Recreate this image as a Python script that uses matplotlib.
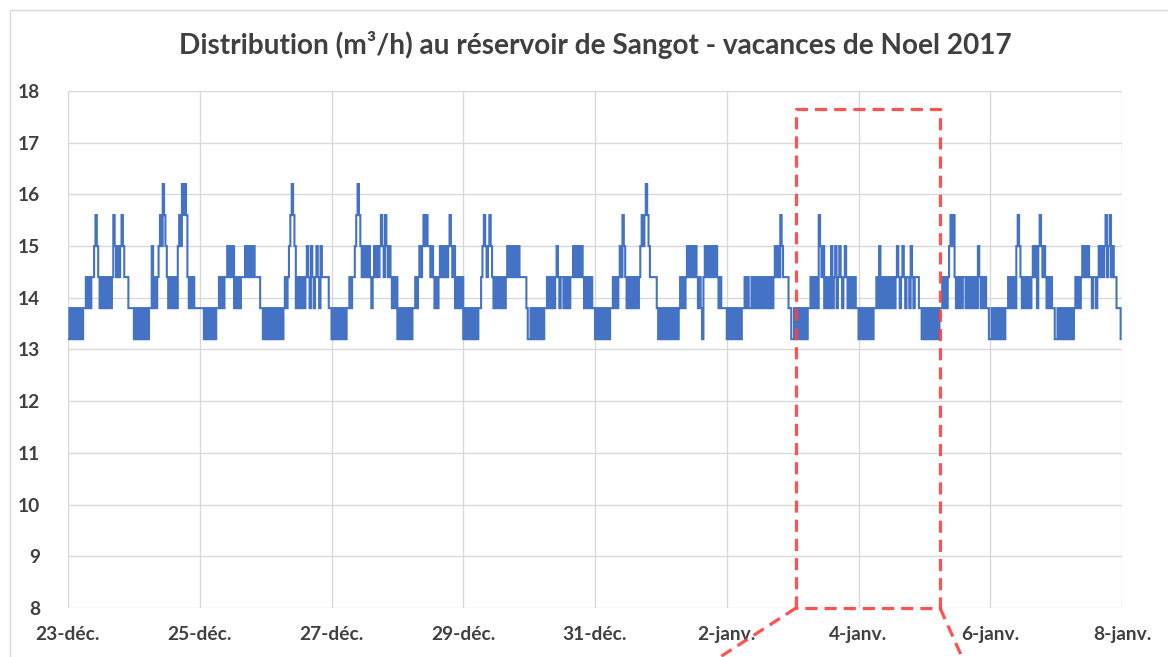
import matplotlib
matplotlib.use("Agg")
import matplotlib.pyplot as plt
from matplotlib.lines import Line2D
from matplotlib.patches import Rectangle
from datetime import datetime, timedelta

# ---------------- data ----------------
# level codes (m3/h)
LEVEL_CODES = "abcdef"
LEVEL_VALUES = [13.2, 13.8, 14.4, 15.0, 15.6, 16.2]

# one string per day, one character per 30-minute slot (48 per day)
D_23DEC = "abababababab" + "bcbcbc" + "cdedc" + "bcbcbcbcb" + "cedcdcdedc" + "cc" + "bbbb"
D_24DEC = "abababababab" + "bdbcbc" + "dedfed" + "cbcbcbcb" + "dedfefe" + "cbcbcb" + "bbb"
D_25DEC = "bbb" + "ababababab" + "bcbcbc" + "cdcdcd" + "bcbcbc" + "cc" + "dcdcdcd" + "cccc" + "bb" + "ab"
D_26DEC = "ababababababa" + "bcbc" + "defed" + "bcbcbcb" + "cdcbdcbcdcbdc" + "cccc" + "bb"
D_27DEC = "abababababab" + "bcbcc" + "defed" + "cdcdcdc" + "bcd" + "cdc" + "dedce" + "dcdc" + "bcbc"
D_28DEC = "abababababab" + "bcb" + "cdc" + "deded" + "dcdc" + "bcbc" + "dcdcdcdedcd" + "bcbcbc"
D_29DEC = "abababababab" + "bcd" + "edcdedc" + "bcbcbcbcbc" + "dcdcdcdcdc" + "cccc" + "ba"
D_30DEC = "abababababab" + "bcbcbcbc" + "d" + "cbccbcbcbcc" + "dcdcdcdc" + "bcbcbc" + "bb"
D_31DEC = "abababababab" + "bcbcb" + "cdcedc" + "bcbcbcbcbc" + "dedefed" + "ccccc" + "bab"
D_01JAN = "ababababababa" + "bcbcbc" + "dcdcdcd" + "cbcbac" + "dcdcdcdcdc" + "bcb" + "bbb"
D_02JAN = "abababababab" + "bcbcbbcbcbc" + "bcbcbcbcbcb" + "cdcdced" + "cccc" + "bba"
D_03JAN = "abababababab" + "bcbcbcb" + "edcd" + "bcbcb" + "dbcdbcdcbcdcbcbcbc" + "bb"
D_04JAN = "abababababab" + "bcbdbcbcbcbcbcb" + "cdcbcdcbccbdcbccc" + "bbab"
D_05JAN = "abababababab" + "bcbcb" + "cd" + "ede" + "cbcbcbcc" + "bcbcbcbcbdcbcbc" + "bb" + "a"
D_06JAN = "abababababab" + "bcbcbcb" + "dedc" + "bcbcbcbc" + "dcdbdedcd" + "cbcbc" + "bba"
D_07JAN = "ababababababa" + "bcbcbc" + "dcdcdc" + "cbccb" + "cdcdcdecdecd" + "cc" + "bbba"

DAYS = [D_23DEC, D_24DEC, D_25DEC, D_26DEC, D_27DEC, D_28DEC, D_29DEC, D_30DEC,
        D_31DEC, D_01JAN, D_02JAN, D_03JAN, D_04JAN, D_05JAN, D_06JAN, D_07JAN]

START = datetime(2017, 12, 23)
END = datetime(2018, 1, 8)
STEP_MIN = 30

XTICK_LABELS = ["23-déc.", "25-déc.", "27-déc.", "29-déc.", "31-déc.",
                "2-janv.", "4-janv.", "6-janv.", "8-janv."]
YTICKS = [8, 9, 10, 11, 12, 13, 14, 15, 16, 17, 18]

TITLE = "Distribution (m³/h) au réservoir de Sangot - vacances de Noel 2017"

# highlighted zone (red dashed box)
ZONE_START = datetime(2018, 1, 3, 1, 13)
ZONE_END = datetime(2018, 1, 5, 5, 41)
ZONE_TOP = 17.65

# ---------------- build series ----------------
level_of = dict(zip(LEVEL_CODES, LEVEL_VALUES))
values = []
times = []
for d, day in enumerate(DAYS):
    for k, ch in enumerate(day):
        times.append(START + timedelta(days=d, minutes=STEP_MIN * k))
        values.append(level_of[ch])

# ---------------- figure ----------------
plt.rcParams["font.family"] = ["Lato", "DejaVu Sans"]
W, H = 1168, 657
fig = plt.figure(figsize=(W / 100, H / 100), dpi=100)
fig.patch.set_facecolor("white")

# chart border (Excel chart area)
fig.patches.append(Rectangle((10 / W, -0.2), 1.2, 1.2 - 10 / H,
                             transform=fig.transFigure, fill=False,
                             edgecolor="#D9D9D9", linewidth=1.0))

ax = fig.add_axes([68 / W, 1 - 608 / H, (1122 - 68) / W, (608 - 91) / H])
ax.plot(times, values, color="#4472C4", linewidth=1.5, zorder=3,
        drawstyle="steps-post", solid_joinstyle="miter")

ax.set_xlim(START, END)
ax.set_ylim(8, 18)
tick_dates = [START + timedelta(days=2 * i) for i in range(len(XTICK_LABELS))]
ax.set_xticks(tick_dates)
ax.set_xticklabels(XTICK_LABELS)
ax.set_yticks(YTICKS)
ax.set_yticklabels([str(v) for v in YTICKS])

for s in ax.spines.values():
    s.set_visible(False)
ax.grid(True, color="#D9D9D9", linewidth=1.0, zorder=0)
ax.set_axisbelow(True)
ax.tick_params(axis="both", length=0, labelcolor="#404040", labelsize=13.8)
ax.tick_params(axis="x", pad=13)
ax.tick_params(axis="y", pad=20)
for lab in ax.get_xticklabels() + ax.get_yticklabels():
    lab.set_fontweight("bold")

fig.text(595 / W, 1 - 45 / H, TITLE, ha="center", va="center",
         fontsize=20.2, fontweight="bold", color="#404040")

# red dashed zoom box
red = "#FF4040"
box_x = [ZONE_START, ZONE_START, ZONE_END, ZONE_END, ZONE_START]
box_y = [8, ZONE_TOP, ZONE_TOP, 8, 8]
ax.plot(box_x, box_y, color=red, linewidth=2.3,
        linestyle=(0, (3.8, 2.2)), alpha=0.9, zorder=5, clip_on=False)

# connector lines towards the (cropped) detail view
fig.add_artist(Line2D([796 / W, 720 / W], [1 - 608 / H, 0.0],
                      transform=fig.transFigure, color=red, linewidth=2.3,
                      linestyle=(0, (3.8, 2.2)), alpha=0.9))
fig.add_artist(Line2D([940 / W, 962 / W], [1 - 608 / H, 0.0],
                      transform=fig.transFigure, color=red, linewidth=2.3,
                      linestyle=(0, (3.8, 2.2)), alpha=0.9))

fig.savefig("out.png", dpi=100)
